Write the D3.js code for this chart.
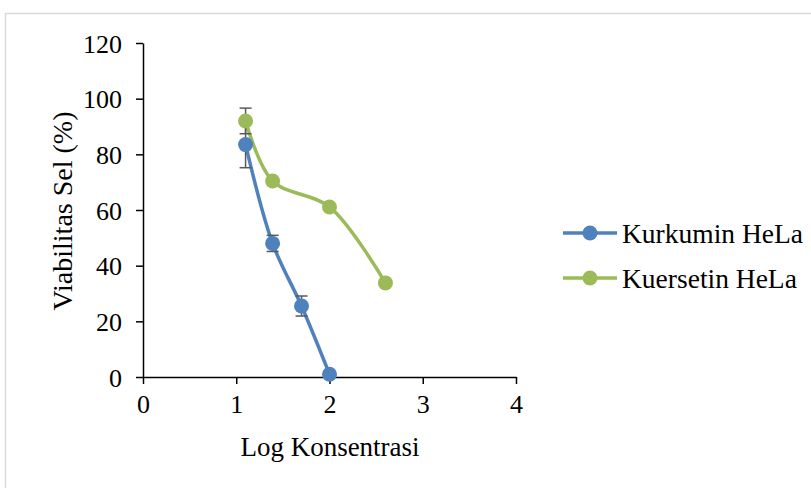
<!DOCTYPE html>
<html>
<head>
<meta charset="utf-8">
<script src="https://cdn.jsdelivr.net/npm/d3@7"></script>
<style>
  html, body { margin: 0; padding: 0; background: #fff; }
  svg { display: block; }
</style>
</head>
<body>
<svg id="chart" width="811" height="488"></svg>
<script>
// ---- data ----
const seriesNames = ["Kurkumin HeLa", "Kuersetin HeLa"];
const seriesColors = ["#4F81BD", "#9BBB59"];
const kurkuminX = [1.1, 1.39, 1.7, 2.0];
const kurkuminY = [83.5, 48, 25.5, 1];
const kurkuminErr = [8.3, 2.9, 3.6, 0];
const kuersetinX = [1.1, 1.39, 2.0, 2.6];
const kuersetinY = [92, 70.4, 61.1, 33.8];
const kuersetinErr = [4.6, 0, 0, 0];
const xTicks = [0, 1, 2, 3, 4];
const yTicks = [0, 20, 40, 60, 80, 100, 120];
const xTitle = "Log Konsentrasi";
const yTitle = "Viabilitas Sel (%)";

const series = [
  { name: seriesNames[0], color: seriesColors[0], pts: kurkuminX.map((x, i) => ({ x, y: kurkuminY[i], e: kurkuminErr[i] })) },
  { name: seriesNames[1], color: seriesColors[1], pts: kuersetinX.map((x, i) => ({ x, y: kuersetinY[i], e: kuersetinErr[i] })) }
];

const FONT = "'Liberation Serif', 'Times New Roman', serif";
const svg = d3.select("#chart");
// outer chart border
svg.append("rect").attr("x", 5.5).attr("y", 13.5).attr("width", 820).attr("height", 500)
  .attr("fill", "#fff").attr("stroke", "#d9d9d9").attr("stroke-width", 1.5);

const x = d3.scaleLinear().domain([0, 4]).range([143, 516]);
const y = d3.scaleLinear().domain([0, 120]).range([377, 43]);

// axes
const xAxis = svg.append("g").attr("transform", `translate(0,${y(0)})`)
  .call(d3.axisBottom(x).tickValues(xTicks).tickFormat(d3.format("d")).tickSize(7).tickPadding(10).tickSizeOuter(0));
const yAxis = svg.append("g").attr("transform", `translate(${x(0)},0)`)
  .call(d3.axisLeft(y).tickValues(yTicks).tickFormat(d3.format("d")).tickSize(7).tickPadding(14).tickSizeOuter(0));
[xAxis, yAxis].forEach(g => {
  g.attr("font-family", null).attr("font-size", null);
  g.select(".domain").attr("stroke", "#000").attr("stroke-width", 1.5);
  g.selectAll(".tick line").attr("stroke", "#000").attr("stroke-width", 1.5);
  g.selectAll(".tick text").style("font-family", FONT).style("font-size", "26px").attr("fill", "#000");
});
xAxis.selectAll(".tick text").attr("dy", "0.72em");
yAxis.selectAll(".tick text").attr("dy", "0.35em");

// titles
svg.append("text").attr("x", 330).attr("y", 456).attr("text-anchor", "middle")
  .style("font-family", FONT).style("font-size", "27px").text(xTitle);
svg.append("text").attr("transform", `translate(72,211) rotate(-90)`).attr("text-anchor", "middle")
  .style("font-family", FONT).style("font-size", "28px").text(yTitle);

const line = d3.line().x(d => x(d.x)).y(d => y(d.y)).curve(d3.curveCatmullRom.alpha(0.5));

// lines
series.forEach(s => {
  svg.append("path").datum(s.pts).attr("d", line).attr("fill", "none")
    .attr("stroke", s.color).attr("stroke-width", 3.5).attr("stroke-linecap", "round");
});
// error bars
series.forEach(s => {
  const g = svg.append("g").attr("stroke", "#595959").attr("stroke-width", 1.5);
  s.pts.filter(d => d.e > 0).forEach(d => {
    g.append("line").attr("x1", x(d.x)).attr("x2", x(d.x)).attr("y1", y(d.y - d.e)).attr("y2", y(d.y + d.e));
    [d.y - d.e, d.y + d.e].forEach(v => {
      g.append("line").attr("x1", x(d.x) - 6).attr("x2", x(d.x) + 6).attr("y1", y(v)).attr("y2", y(v));
    });
  });
});
// markers
series.forEach(s => {
  svg.append("g").selectAll("circle").data(s.pts).join("circle")
    .attr("cx", d => x(d.x)).attr("cy", d => y(d.y)).attr("r", 7.5).attr("fill", s.color);
});

// legend
const legY = [233, 278];
series.forEach((s, i) => {
  const g = svg.append("g").attr("transform", `translate(0,${legY[i]})`);
  g.append("line").attr("x1", 563).attr("x2", 617).attr("y1", 0).attr("y2", 0)
    .attr("stroke", s.color).attr("stroke-width", 3.5);
  g.append("circle").attr("cx", 590).attr("cy", 0).attr("r", 7.5).attr("fill", s.color);
  g.append("text").attr("x", 622).attr("y", 0).attr("dy", "0.35em")
    .style("font-family", FONT).style("font-size", "27.5px").text(s.name);
});
</script>
</body>
</html>
